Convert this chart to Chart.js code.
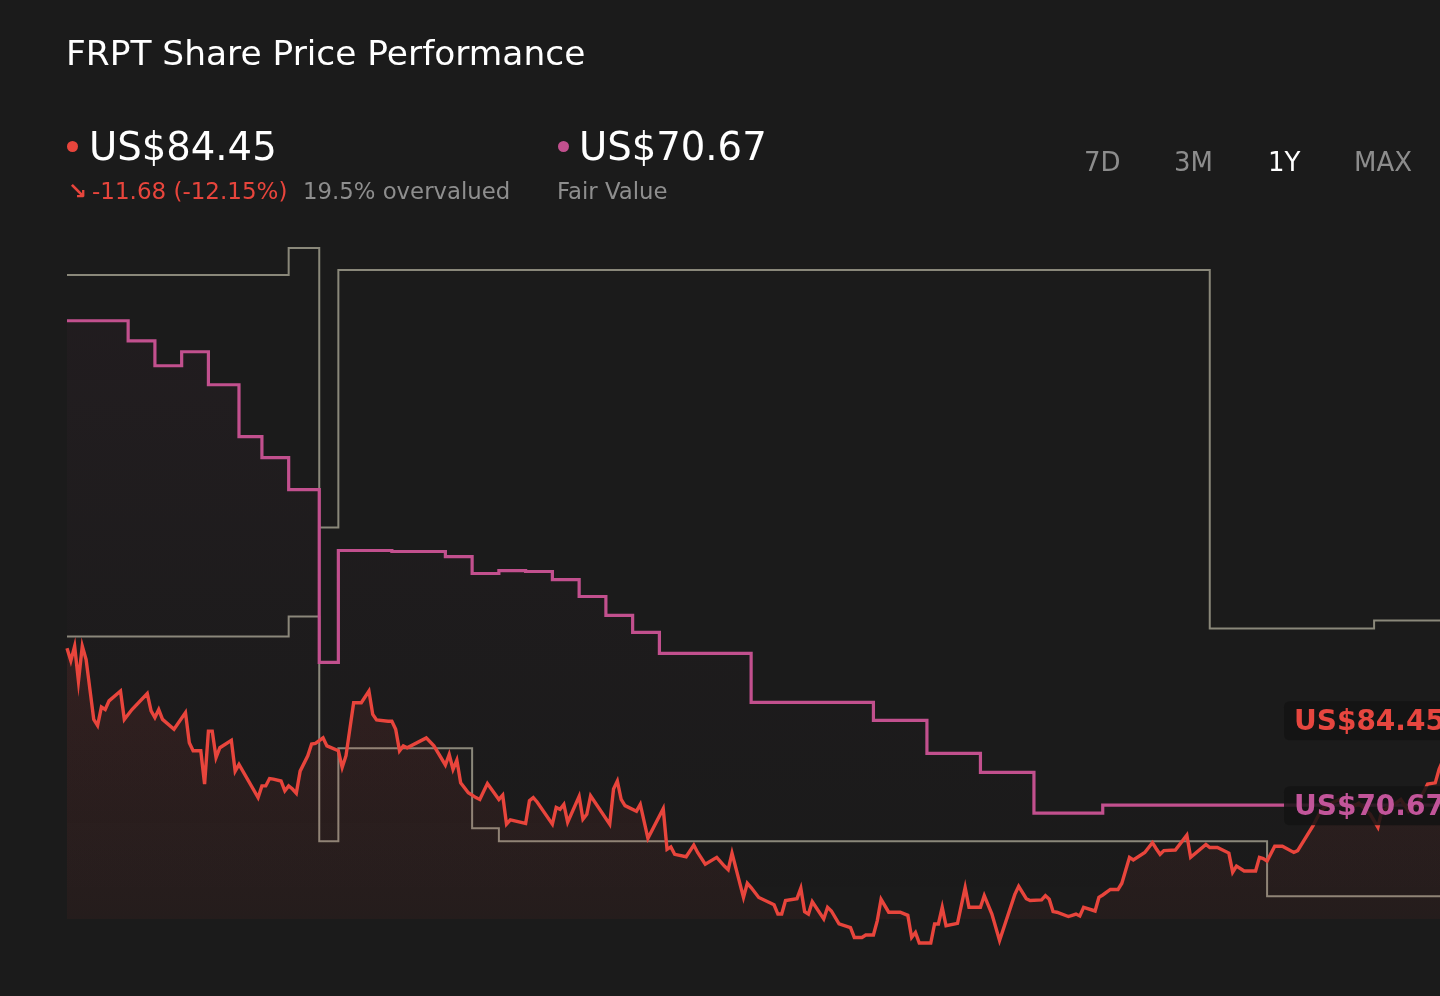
<!DOCTYPE html>
<html>
<head>
<meta charset="utf-8">
<script src="https://cdn.jsdelivr.net/npm/chart.js@4.4.1/dist/chart.umd.min.js"></script>
<style>
  html, body { margin:0; padding:0; background:#1b1b1b; width:1440px; height:996px; overflow:hidden; font-family:"DejaVu Sans", sans-serif; }
  #wrap { position:absolute; left:0; top:0; width:1480px; height:996px; }
  .t { position:absolute; line-height:1; white-space:nowrap; }
  .dot { position:absolute; width:11px; height:11px; border-radius:50%; }
</style>
</head>
<body>
<div id="wrap"><canvas id="c"></canvas></div>

<div class="t" style="left:66px; top:36px; font-size:34.4px; color:#ffffff;">FRPT Share Price Performance</div>

<div class="dot" style="left:67px; top:141px; background:#e8453c;"></div>
<div class="t" style="left:89px; top:128px; font-size:38.6px; color:#ffffff;">US$84.45</div>
<div class="t" style="left:68px; top:180px; font-size:23px; font-weight:bold; color:#e8453c;">&#8600;</div>
<div class="t" style="left:92px; top:180px; font-size:23px; color:#e8453c;">-11.68 (-12.15%)</div>
<div class="t" style="left:303px; top:180px; font-size:22.8px; color:#8e8e8e;">19.5% overvalued</div>

<div class="dot" style="left:558px; top:141px; background:#c2508e;"></div>
<div class="t" style="left:579px; top:128px; font-size:38.6px; color:#ffffff;">US$70.67</div>
<div class="t" style="left:557px; top:180px; font-size:22.8px; color:#8e8e8e;">Fair Value</div>

<div class="t" style="left:1084px; top:149px; font-size:26px; color:#8c8c8c;">7D</div>
<div class="t" style="left:1174px; top:149px; font-size:26px; color:#8c8c8c;">3M</div>
<div class="t" style="left:1268px; top:149px; font-size:26px; color:#ffffff;">1Y</div>
<div class="t" style="left:1354px; top:149px; font-size:26px; color:#8c8c8c;">MAX</div>

<script>
// ---- data (x = days since start of the 1Y window, y = US$) ----
const priceDays = [0,1,2,3,4,5,7,8,9,10,11,14,15,16,17,21,22,23,24,25,28,31,32,33,35,36,37,38,39,40,43,44,45,50,51,52,53,54,56,57,58,59,60,61,63,64,65,67,68,71,72,73,75,77,79,80,81,84,85,86,87,88,89,94,96,99,100,101,102,103,105,107,108,110,113,114,115,116,120,121,122,123,127,128,129,130,131,134,135,136,137,142,143,144,145,146,149,150,152,156,157,158,159,162,164,165,167,170,172,173,174,177,178,179,181,185,186,187,188,191,192,193,194,195,198,199,200,202,205,206,208,209,211,212,213,215,218,220,221,222,223,226,227,228,229,230,233,235,236,239,240,242,244,248,249,251,252,255,256,257,258,259,262,263,264,265,266,269,270,271,273,275,276,278,279,282,284,285,286,287,290,293,294,298,299,301,304,305,306,308,311,312,313,314,316,318,321,322,326,328,330,333,336,338,341,343,344,347,349,351,354,356,358,359,361,363,365];
const priceValues = [96.13,94.1,96.5,90.8,96.5,94.3,84.6,83.6,86.6,86.2,87.6,89.2,84.6,85.4,86.2,88.8,86.0,84.9,86.2,84.6,83.0,85.7,80.8,79.5,79.5,74.1,82.7,82.7,78.4,80.0,81.2,76.2,77.3,71.9,73.8,73.8,75.0,74.9,74.6,73.0,73.8,73.3,72.6,76.2,78.7,80.6,80.7,81.6,80.3,79.5,76.8,78.7,87.3,87.3,89.2,85.4,84.5,84.3,84.3,83.0,79.5,80.3,80.0,81.6,80.3,77.2,78.9,76.5,78.0,74.3,72.7,71.9,71.6,74.2,71.6,72.3,67.6,68.3,67.7,71.4,71.9,71.2,67.6,70.3,70.0,70.8,67.9,72.1,68.4,69.2,72.2,67.6,73.3,74.6,71.6,70.6,69.7,70.8,65.3,70.1,63.5,63.9,62.7,62.3,64.2,63.0,61.1,62.2,60.8,60.2,62.9,55.7,58.0,57.3,55.7,54.5,53.0,53.0,55.2,55.5,57.2,53.4,53.0,55.0,52.2,54.1,53.5,51.4,50.8,49.2,49.2,49.6,49.6,51.9,55.4,53.3,53.3,52.8,49.2,50.0,48.3,48.3,51.4,51.4,54.1,51.1,51.5,57.3,54.1,54.1,56.0,53.0,48.7,56.2,57.5,55.5,55.2,55.3,56.0,55.4,53.4,53.3,52.6,52.8,53.0,52.7,54.1,53.5,55.7,56.1,57.0,57.0,58.0,62.2,61.8,63.0,64.6,63.6,62.7,63.3,63.4,65.8,62.2,64.3,63.8,63.8,62.9,59.8,60.8,60.0,60.0,62.2,62.0,61.6,64.0,64.0,63.0,63.3,67.3,69.7,70.8,71.6,70.3,71.0,69.2,67.1,69.7,70.7,71.6,69.7,71.6,74.1,74.3,76.5,79.4,81.4,84.45];

const fairDays   = [0,16,23,30,37,45,51,58,66,71,85,99,106,113,120,127,134,141,148,155,179,211,225,239,253,271,365];
const fairValues = [149.3,146.05,142.0,144.27,138.92,130.49,127.08,121.9,93.85,112.01,111.85,111.03,108.28,108.76,108.6,107.3,104.55,101.47,98.71,95.31,87.36,84.45,79.09,76.01,69.37,70.67,70.67];

const upperDays   = [0,58,66,71,299,342,365];
const upperValues = [156.75,161.13,115.74,157.56,99.36,100.66,100.66];
const lowerDays   = [0,58,66,71,106,113,314,365];
const lowerValues = [98.06,101.31,64.83,79.9,66.93,64.83,55.91,55.91];

const lastPrice = 84.45;
const fairValue = 70.67;
const priceLabel = 'US$84.45';
const fairLabel  = 'US$70.67';
const yMin = 52.2, yMax = 182.7;
const xMin = 0, xMax = 365;

const RED = '#e8453c';
const PINK = '#c2508e';
const GREY = '#8a887a';

const pts = (xs, ys) => xs.map((x, i) => ({x, y: ys[i]}));

function grad(color0, color1, color2) {
  return (ctx) => {
    const a = ctx.chart.chartArea;
    if (!a) return 'transparent';
    const g = ctx.chart.ctx.createLinearGradient(0, a.top, 0, a.bottom);
    g.addColorStop(0, color0);
    g.addColorStop(0.6, color1);
    g.addColorStop(1, color2);
    return g;
  };
}

function roundRect(ctx, x, y, w, h, r) {
  ctx.beginPath();
  ctx.moveTo(x + r, y);
  ctx.lineTo(x + w - r, y);
  ctx.quadraticCurveTo(x + w, y, x + w, y + r);
  ctx.lineTo(x + w, y + h - r);
  ctx.quadraticCurveTo(x + w, y + h, x + w - r, y + h);
  ctx.lineTo(x + r, y + h);
  ctx.quadraticCurveTo(x, y + h, x, y + h - r);
  ctx.lineTo(x, y + r);
  ctx.quadraticCurveTo(x, y, x + r, y);
  ctx.closePath();
}

const endLabels = {
  id: 'endLabels',
  afterDatasetsDraw(chart) {
    const {ctx, chartArea, scales} = chart;
    const items = [
      {value: lastPrice, text: priceLabel, color: '#e6463f'},
      {value: fairValue, text: fairLabel, color: '#c2559a'}
    ];
    ctx.save();
    ctx.font = 'bold 28px "DejaVu Sans"';
    items.forEach(it => {
      const y = scales.y.getPixelForValue(it.value);
      const x = chartArea.right - 178;
      ctx.fillStyle = 'rgba(20,20,20,0.86)';
      roundRect(ctx, x, y - 19, 210, 39, 6);
      ctx.fill();
      ctx.fillStyle = it.color;
      ctx.textBaseline = 'alphabetic';
      ctx.fillText(it.text, x + 10, y + 10);
    });
    ctx.restore();
  }
};

new Chart(document.getElementById('c'), {
  type: 'line',
  data: {
    datasets: [
      {
        label: 'Price',
        data: pts(priceDays, priceValues),
        borderColor: RED,
        borderWidth: 3.4,
        pointRadius: 0,
        tension: 0,
        fill: 'start',
        backgroundColor: grad('rgba(232,69,60,0.17)', 'rgba(232,69,60,0.11)', 'rgba(232,69,60,0.05)'),
        clip: false,
        order: 1
      },
      {
        label: 'Fair Value',
        data: pts(fairDays, fairValues),
        borderColor: PINK,
        borderWidth: 3.2,
        pointRadius: 0,
        stepped: 'before',
        fill: 'start',
        backgroundColor: grad('rgba(194,80,142,0.06)', 'rgba(194,80,142,0.02)', 'rgba(194,80,142,0.0)'),
        clip: false,
        order: 2
      },
      {
        label: 'Upper',
        data: pts(upperDays, upperValues),
        borderColor: GREY,
        borderWidth: 2,
        pointRadius: 0,
        stepped: 'before',
        fill: false,
        order: 3
      },
      {
        label: 'Lower',
        data: pts(lowerDays, lowerValues),
        borderColor: GREY,
        borderWidth: 2,
        pointRadius: 0,
        stepped: 'before',
        fill: false,
        order: 4
      }
    ]
  },
  options: {
    responsive: true,
    maintainAspectRatio: false,
    animation: false,
    layout: { padding: { left: 67, right: 18, top: 115, bottom: 77 } },
    plugins: { legend: { display: false }, tooltip: { enabled: false } },
    scales: {
      x: { type: 'linear', min: xMin, max: xMax, display: false },
      y: { type: 'linear', min: yMin, max: yMax, display: false }
    }
  },
  plugins: [endLabels]
});
</script>
</body>
</html>
